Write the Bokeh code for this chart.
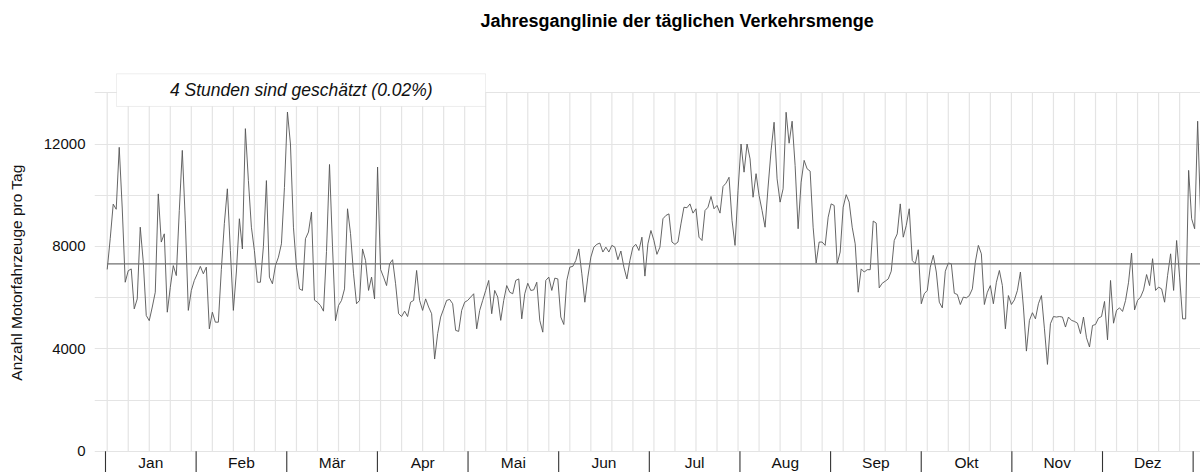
import numpy as np
from bokeh.plotting import figure
from bokeh.models import Range1d, FixedTicker, Label, Title, BoxAnnotation
from bokeh.core.properties import value
from bokeh.embed import file_html
from bokeh.resources import INLINE

TITLE = "Jahresganglinie der täglichen Verkehrsmenge"
Y_LABEL = "Anzahl Motorfahrzeuge pro Tag"
NOTE = "4 Stunden sind geschätzt (0.02%)"
MONTHS = ["Jan", "Feb", "Mär", "Apr", "Mai", "Jun", "Jul", "Aug", "Sep", "Okt", "Nov", "Dez"]
Y_TICKS = [0, 4000, 8000, 12000]
Y_GRID = [0, 2000, 4000, 6000, 8000, 10000, 12000, 14000]
MEAN = 7320

DAILY = [
    7100, 8300, 9650, 9450, 11870, 9500, 6600, 7050, 7120, 5560,
    5950, 8750, 7400, 5300, 5100, 5630, 6210, 10050, 8170, 8490,
    5430, 6400, 7250, 6860, 9400, 11750, 9000, 5500, 6280, 6670,
    6930, 7220, 6930, 7190, 4780, 5430, 5040, 5040, 7100, 8900,
    10250, 7840, 5500, 7000, 9080, 7900, 12600, 10570, 8750, 7840,
    6600, 6600, 8000, 10570, 6800, 6540, 7250, 7580, 8100, 10300,
    13250, 12000, 8750, 7190, 6340, 6280, 8300, 8560, 9340, 5900,
    5820, 5690, 5470, 7800, 11200, 8000, 5100, 5690, 5890, 6340,
    9470, 8500, 6930, 5760, 5890, 7900, 7450, 6280, 6800, 5950,
    11100, 7100, 6800, 6470, 7320, 7480, 6540, 5370, 5260, 5470,
    5260, 5820, 5890, 7060, 5890, 5500, 5950, 5630, 5370, 3600,
    4590, 5240, 5560, 5890, 5930, 5760, 4720, 4680, 5500, 5820,
    5890, 6020, 6150, 4780, 5500, 5890, 6280, 6670, 5370, 6280,
    6020, 5110, 5890, 6470, 6210, 6150, 6670, 6730, 5170, 6150,
    6560, 6280, 6300, 6600, 5110, 4650, 6670, 6800, 6280, 6760,
    6730, 5240, 4950, 6670, 7190, 7220, 7450, 7900, 6930, 5820,
    6800, 7580, 7970, 8080, 8130, 7780, 7970, 7780, 8040, 7970,
    7480, 7820, 7190, 6730, 7450, 7970, 8080, 7840, 8360, 6840,
    8100, 8620, 8230, 7690, 7970, 9080, 9210, 9270, 8170, 8080,
    8170, 8880, 9530, 9510, 9660, 9300, 9470, 8360, 8230, 9400,
    9530, 9950, 9470, 9600, 9300, 10340, 10470, 10700, 9010, 8040,
    10190, 12000, 10900, 12000, 11420, 9920, 10840, 9990, 9400, 8750,
    10320, 11750, 12850, 10640, 9730, 10250, 13240, 12030, 12890, 11160,
    8690, 10510, 11360, 11030, 10940, 8750, 7350, 8170, 8170, 8040,
    9140, 9660, 9600, 7320, 7780, 9530, 10020, 9730, 8750, 8100,
    6210, 7120, 7000, 7090, 7090, 8990, 8910, 6380, 6560, 6640,
    6730, 7030, 8230, 8490, 9660, 8360, 8820, 9470, 7450, 7320,
    7870, 5760, 6150, 6280, 7190, 7650, 7000, 5820, 5600, 7030,
    7350, 7320, 6170, 6120, 5730, 6020, 5990, 6080, 6340, 7390,
    8040, 7710, 5730, 6210, 6470, 5760, 6600, 7060, 6470, 4780,
    6080, 5730, 5910, 6280, 7000, 5630, 3910, 5110, 5410, 5170,
    5760, 6080, 4780, 3390, 4980, 5260, 5240, 5260, 5240, 4850,
    5240, 5110, 5070, 5000, 4590, 5240, 4430, 4070, 4910, 4950,
    5200, 5260, 5850, 4350, 6670, 5000, 5500, 5600, 5460, 5890,
    6600, 7740, 5520, 5890, 6020, 6300, 6900, 6470, 7520, 6280,
    6410, 6340, 5820, 6870, 7710, 6280, 8230, 6800, 5170, 5170,
    10970, 9080, 8690, 12890, 9140,
]

DAYS = list(range(len(DAILY)))
WEEK_LINES = DAYS[::7]
# the chart's month axis is evenly spaced; boundaries in day units
MONTH_EDGES = list(np.linspace(-0.57, 361.5, len(MONTHS) + 1))
MONTH_CENTERS = [(a + b) / 2 for a, b in zip(MONTH_EDGES[:-1], MONTH_EDGES[1:])]

FONT = "Liberation Sans"
GRID = "#e4e4e4"

# frame spans from just above the note box down to the bottom of the month labels
Y_MIN, Y_MAX = -832, 14793
X_MIN, X_MAX = -4.23, 363.95
MONTH_LABEL_Y = -441

p = figure(
    width=1200, height=472,
    x_range=Range1d(X_MIN, X_MAX), y_range=Range1d(Y_MIN, Y_MAX),
    output_backend="svg", toolbar_location=None, title=None,
    min_border_left=94, min_border_right=0, min_border_top=72, min_border_bottom=0,
)
p.outline_line_color = None
p.background_fill_color = "white"
p.border_fill_color = "white"

# grids
p.xgrid.visible = False
p.ygrid.ticker = FixedTicker(ticks=Y_GRID)
p.ygrid.grid_line_color = GRID
p.ygrid.grid_line_width = 1.2
p.segment(x0=WEEK_LINES, y0=[Y_GRID[0]] * len(WEEK_LINES),
          x1=WEEK_LINES, y1=[Y_GRID[-1]] * len(WEEK_LINES),
          line_color=GRID, line_width=1.2, level="underlay")

# x axis drawn by hand: month boundary ticks and centred month names
p.xaxis.visible = False
p.segment(x0=MONTH_EDGES, y0=[0] * len(MONTH_EDGES),
          x1=MONTH_EDGES, y1=[Y_MIN] * len(MONTH_EDGES),
          line_color="#333333", line_width=1.1)
p.text(x=MONTH_CENTERS, y=[MONTH_LABEL_Y] * len(MONTH_CENTERS), text=MONTHS,
       text_align="center", text_baseline="middle",
       text_font=value(FONT), text_font_size="15.5px", text_color="#111111")

ya = p.yaxis[0]
ya.ticker = FixedTicker(ticks=Y_TICKS)
ya.axis_line_color = None
ya.major_tick_out = 0
ya.major_tick_in = 0
ya.minor_tick_out = 0
ya.minor_tick_in = 0
ya.major_label_standoff = 9
ya.major_label_text_font = FONT
ya.major_label_text_font_size = "15px"
ya.major_label_text_color = "#111111"
ya.axis_label = Y_LABEL
ya.axis_label_text_font = FONT
ya.axis_label_text_font_size = "15.5px"
ya.axis_label_text_font_style = "normal"
ya.axis_label_text_color = "#111111"
ya.axis_label_standoff = 16

# data
p.line(DAYS, DAILY, line_color="#555555", line_width=0.9)
p.line([DAYS[0], DAYS[-1]], [MEAN, MEAN], line_color="#707070", line_width=1.2)

# title: a thin spacer panel next to the frame, the title above it
p.add_layout(Title(text=" ", text_font_size="2px", standoff=36), "above")
p.add_layout(Title(text=TITLE, align="left", offset=386, vertical_align="top", standoff=0,
                   text_font=FONT, text_font_size="18px", text_font_style="bold",
                   text_color="#000000"), "above")

# note box
p.add_layout(BoxAnnotation(left=3.10, right=125.95, bottom=13465, top=14742,
                           fill_color="white", fill_alpha=1.0,
                           line_color="#c8c8c8", line_width=1))
p.add_layout(Label(x=64.6, y=14102, text=NOTE,
                   text_align="center", text_baseline="middle",
                   text_font=FONT, text_font_size="17.5px", text_font_style="italic",
                   text_color="#111111"))

open("out.html", "w").write(file_html(p, INLINE))
